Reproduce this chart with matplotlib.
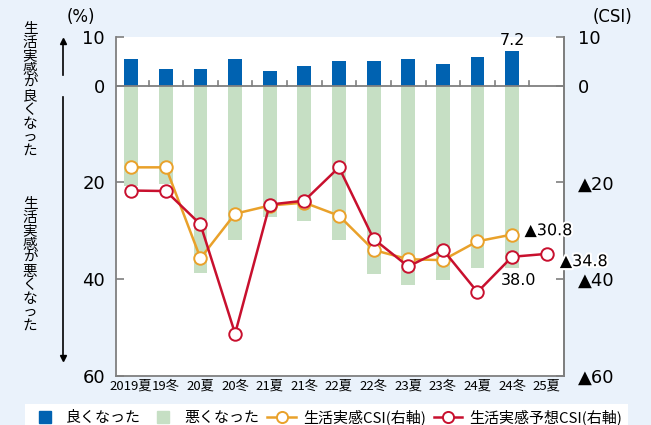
import numpy as np
import matplotlib
matplotlib.use("Agg")
import matplotlib.pyplot as plt
import matplotlib.patheffects as pe
from matplotlib.lines import Line2D

plt.rcParams["font.family"] = ["Noto Sans CJK JP", "DejaVu Sans"]
NUM = ["DejaVu Sans", "Noto Sans CJK JP"]

periods = ["2019夏", "19冬", "20夏", "20冬", "21夏", "21冬", "22夏",
           "22冬", "23夏", "23冬", "24夏", "24冬", "25夏"]
good = [5.5, 3.5, 3.4, 5.6, 3.0, 4.0, 5.2, 5.2, 5.6, 4.5, 5.9, 7.2]
bad = [20.7, 20.3, 38.8, 32.0, 27.1, 28.0, 32.0, 38.9, 41.3, 40.3, 37.8, 37.8]
csi = [16.9, 16.9, 35.7, 26.5, 24.8, 24.2, 26.9, 34.0, 35.9, 36.1, 32.2, 30.8]
csi_fc = [21.7, 21.8, 28.7, 51.3, 24.6, 23.8, 16.9, 31.7, 37.4, 33.9, 42.7, 35.4, 34.8]

BG = "#eaf2fb"
BLUE = "#0062b1"
GREEN = "#c6dfc4"
ORANGE = "#e9a12a"
RED = "#c8102e"
GRAY = "#7f7f7f"

fig = plt.figure(figsize=(6.51, 4.25), dpi=100, facecolor=BG)
ax = fig.add_axes([116 / 651, 1 - 375.7 / 425, 448 / 651, 338.4 / 425])
ax.set_facecolor("white")

x = np.arange(len(periods))
nb = len(good)
ax.bar(x[:nb], [-g for g in good], width=0.4, color=BLUE, zorder=2)
ax.bar(x[:nb], bad, width=0.4, color=GREEN, zorder=2)
ax.axhline(0, color=GRAY, lw=1.3, zorder=3)
for b in x[:-1] + 0.5:
    ax.plot([b, b], [0, -0.9], color=GRAY, lw=1.2, zorder=3)

ax.plot(x[:len(csi)], csi, color=ORANGE, lw=1.8, marker="o", ms=9,
        mfc="white", mec=ORANGE, mew=1.4, zorder=4)
ax.plot(x, csi_fc, color=RED, lw=1.8, marker="o", ms=9,
        mfc="white", mec=RED, mew=1.4, zorder=5)

ax.set_xlim(-0.44, 12.5)
ax.set_ylim(60, -10)
yt = [-10, 0, 20, 40, 60]
ax.set_yticks(yt)
ax.set_yticklabels(["10", "0", "20", "40", "60"], fontsize=13, family=NUM)
ax.tick_params(axis="y", direction="in", length=6, color=GRAY, width=1.2, pad=8)
ax.set_xticks(x)
ax.set_xticklabels(periods, fontsize=9.5)
ax.tick_params(axis="x", length=0, pad=3)
for s in ["left", "bottom", "right"]:
    ax.spines[s].set_color(GRAY)
    ax.spines[s].set_linewidth(1.3)
ax.spines["top"].set_visible(False)

ax2 = ax.twinx()
ax2.set_ylim(60, -10)
ax2.set_yticks(yt)
ax2.set_yticklabels(["10", "0", "▲20", "▲40", "▲60"], fontsize=13, family=NUM)
ax2.tick_params(axis="y", direction="in", length=6, color=GRAY, width=1.2, pad=10)
for s in ["left", "bottom", "top"]:
    ax2.spines[s].set_visible(False)
ax2.spines["right"].set_color(GRAY)
ax2.spines["right"].set_linewidth(1.3)

# value labels (white halo like the original)
halo = [pe.withStroke(linewidth=3, foreground="white")]
ax2.text(x[11], -good[11] - 0.6, f"{good[11]}", ha="center", va="bottom",
         fontsize=11.5, family=NUM)
ax2.text(x[11] + 0.36, csi[11] - 0.8, f"▲{csi[11]}", ha="left", va="center",
         fontsize=11.5, family=NUM, path_effects=halo, clip_on=False)
ax2.text(x[12] + 0.38, csi_fc[12] + 1.6, f"▲{csi_fc[12]}", ha="left", va="center",
         fontsize=11.5, family=NUM, clip_on=False, path_effects=halo)
ax2.text(x[11] + 0.2, 40.3, "38.0", ha="center", va="center", fontsize=11.5,
         family=NUM)

fig.text(81 / 651, 1 - 17 / 425, "(%)", ha="center", va="center", fontsize=12,
         family=NUM)
fig.text(612 / 651, 1 - 17 / 425, "(CSI)", ha="center", va="center", fontsize=12,
         family=NUM)

fig.text(30 / 651, 1 - 90 / 425, "\n".join("生活実感が良くなった"), ha="center",
         va="center", fontsize=10.5, linespacing=0.95)
fig.text(30 / 651, 1 - 265 / 425, "\n".join("生活実感が悪くなった"), ha="center",
         va="center", fontsize=10.5, linespacing=0.95)
fig.add_artist(plt.Line2D([63 / 651, 63 / 651], [1 - 75 / 425, 1 - 44 / 425],
                          color="black", lw=1.2))
fig.add_artist(plt.Line2D([63 / 651], [1 - 41 / 425], marker="^", ms=5,
                          color="black"))
fig.add_artist(plt.Line2D([63 / 651, 63 / 651], [1 - 97 / 425, 1 - 355 / 425],
                          color="black", lw=1.2))
fig.add_artist(plt.Line2D([63 / 651], [1 - 358 / 425], marker="v", ms=5,
                          color="black"))

handles = [
    Line2D([], [], ls="none", marker="s", ms=9, mfc=BLUE, mec=BLUE, label="良くなった"),
    Line2D([], [], ls="none", marker="s", ms=9, mfc=GREEN, mec=GREEN, label="悪くなった"),
    Line2D([], [], color=ORANGE, lw=1.8, marker="o", ms=8, mfc="white",
           mec=ORANGE, mew=1.4, label="生活実感CSI(右軸)"),
    Line2D([], [], color=RED, lw=1.8, marker="o", ms=8, mfc="white",
           mec=RED, mew=1.4, label="生活実感予想CSI(右軸)"),
]
leg = fig.legend(handles=handles, ncol=4, loc="upper left",
                 bbox_to_anchor=(25 / 651, 1 - 404 / 425), frameon=True,
                 fancybox=False, facecolor="white", edgecolor="none",
                 fontsize=10.8, handlelength=1.9, handleheight=0.8,
                 columnspacing=0.5, handletextpad=0.5, borderpad=0.35,
                 borderaxespad=0)
leg.get_frame().set_alpha(1)

fig.savefig("out.png", dpi=100, facecolor=BG)
